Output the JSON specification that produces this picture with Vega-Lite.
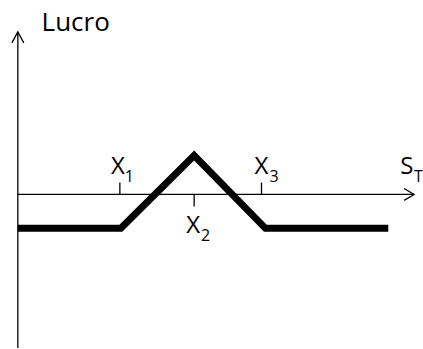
{
  "$schema": "https://vega.github.io/schema/vega-lite/v6.json",
  "width": 423,
  "height": 349,
  "autosize": {"type": "fit", "contains": "padding"},
  "padding": 0,
  "background": "white",
  "config": {"view": {"stroke": null}},
  "layer": [
    {
      "data": {"values": [
        {"name": "vertical", "x": 0, "x2": 0, "y": -154, "y2": 163},
        {"name": "horizontal", "x": 0, "x2": 400, "y": 0, "y2": 0},
        {"name": "X1", "x": 103, "x2": 103, "y": 0, "y2": 12},
        {"name": "X2", "x": 178, "x2": 178, "y": 0, "y2": -12},
        {"name": "X3", "x": 246, "x2": 246, "y": 0, "y2": 12}
      ]},
      "mark": {"type": "rule", "color": "#000", "strokeWidth": 1.3},
      "encoding": {
        "x": {"field": "x", "type": "quantitative", "scale": {"domain": [-18, 405], "nice": false, "zero": false}, "axis": null},
        "x2": {"field": "x2"},
        "y": {"field": "y", "type": "quantitative", "scale": {"domain": [-154, 195], "nice": false, "zero": false}, "axis": null},
        "y2": {"field": "y2"}
      }
    },
    {
      "data": {"values": [
        {"seg": "up", "i": 0, "x": -6, "y": 152},
        {"seg": "up", "i": 1, "x": 0, "y": 163},
        {"seg": "up", "i": 2, "x": 6, "y": 152},
        {"seg": "right", "i": 0, "x": 390, "y": 6},
        {"seg": "right", "i": 1, "x": 400, "y": 0},
        {"seg": "right", "i": 2, "x": 390, "y": -6}
      ]},
      "mark": {"type": "line", "color": "#000", "strokeWidth": 1.3},
      "encoding": {
        "x": {"field": "x", "type": "quantitative", "scale": {"domain": [-18, 405], "nice": false, "zero": false}, "axis": null},
        "y": {"field": "y", "type": "quantitative", "scale": {"domain": [-154, 195], "nice": false, "zero": false}, "axis": null},
        "detail": {"field": "seg"},
        "order": {"field": "i"}
      }
    },
    {
      "data": {"values": [
        {"S": 0, "lucro": -34},
        {"S": 104, "lucro": -34},
        {"S": 178, "lucro": 39},
        {"S": 250, "lucro": -34},
        {"S": 374, "lucro": -34}
      ]},
      "mark": {"type": "line", "color": "#000", "strokeWidth": 7, "strokeJoin": "miter", "strokeCap": "butt"},
      "encoding": {
        "x": {"field": "S", "type": "quantitative", "scale": {"domain": [-18, 405], "nice": false, "zero": false}, "axis": null},
        "y": {"field": "lucro", "type": "quantitative", "scale": {"domain": [-154, 195], "nice": false, "zero": false}, "axis": null}
      }
    },
    {
      "data": {"values": [
        {"t": "Lucro", "x": 24, "y": 164}
      ]},
      "mark": {"type": "text", "font": "Open Sans", "fontSize": 26, "align": "left", "baseline": "alphabetic", "color": "#000"},
      "encoding": {
        "x": {"field": "x", "type": "quantitative", "scale": {"domain": [-18, 405], "nice": false, "zero": false}, "axis": null},
        "y": {"field": "y", "type": "quantitative", "scale": {"domain": [-154, 195], "nice": false, "zero": false}, "axis": null},
        "text": {"field": "t"}
      }
    },
    {
      "data": {"values": [
        {"t": "X", "x": 94, "y": 20},
        {"t": "X", "x": 170, "y": -39},
        {"t": "X", "x": 239, "y": 20},
        {"t": "S", "x": 386, "y": 20}
      ]},
      "mark": {"type": "text", "font": "Open Sans", "fontSize": 24, "align": "left", "baseline": "alphabetic", "color": "#000"},
      "encoding": {
        "x": {"field": "x", "type": "quantitative", "scale": {"domain": [-18, 405], "nice": false, "zero": false}, "axis": null},
        "y": {"field": "y", "type": "quantitative", "scale": {"domain": [-154, 195], "nice": false, "zero": false}, "axis": null},
        "text": {"field": "t"}
      }
    },
    {
      "data": {"values": [
        {"t": "1", "x": 108, "y": 12},
        {"t": "2", "x": 185, "y": -47},
        {"t": "3", "x": 254, "y": 12},
        {"t": "T", "x": 400, "y": 12}
      ]},
      "mark": {"type": "text", "font": "Open Sans", "fontSize": 16, "align": "left", "baseline": "alphabetic", "color": "#000"},
      "encoding": {
        "x": {"field": "x", "type": "quantitative", "scale": {"domain": [-18, 405], "nice": false, "zero": false}, "axis": null},
        "y": {"field": "y", "type": "quantitative", "scale": {"domain": [-154, 195], "nice": false, "zero": false}, "axis": null},
        "text": {"field": "t"}
      }
    }
  ]
}
